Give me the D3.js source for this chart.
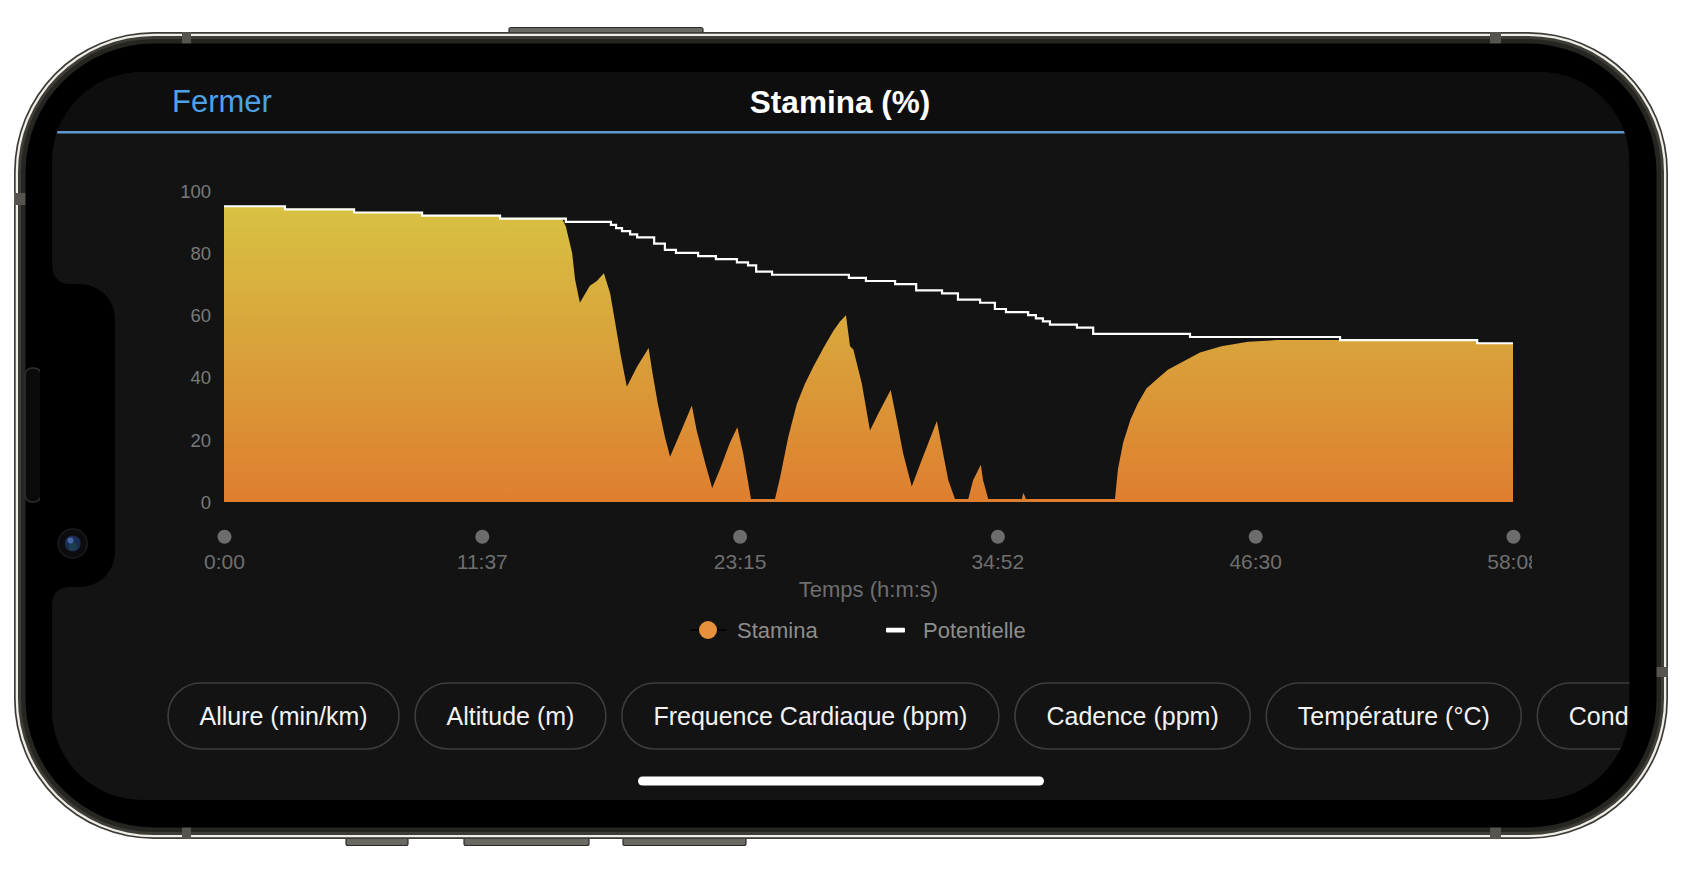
<!DOCTYPE html>
<html><head><meta charset="utf-8">
<script src="https://cdn.jsdelivr.net/npm/d3@7"></script>
<style>
html,body{margin:0;padding:0;background:#fff;overflow:hidden}
svg{display:block}
text{font-family:"Liberation Sans",Arial,Helvetica,sans-serif}
</style>
</head><body>
<svg id="c" width="1682" height="872"></svg>
<script>
// ---------- DATA ----------
const titleText = "Stamina (%)";
const closeText = "Fermer";
const xAxisTitle = "Temps (h:m:s)";
const durationSec = 3488; // 58:08
const xTickLabels = ["0:00","11:37","23:15","34:52","46:30","58:08"];
const yTicks = [0,20,40,60,80,100];
const legendLabels = ["Stamina","Potentielle"];
const buttonLabels = ["Allure (min/km)","Altitude (m)","Frequence Cardiaque (bpm)","Cadence (ppm)","Température (°C)","Condition de performance"];

// Potentielle (step line): time in seconds, value in %
const potentielTime  = [0,165,352,536,747,925,1047,1061,1077,1099,1118,1164,1193,1223,1283,1331,1388,1418,1440,1483,1691,1737,1816,1873,1943,1986,2046,2086,2116,2176,2197,2216,2235,2308,2352,2614,3020,3391,3488];
const potentielValue = [95,94,93,92,91,90,89,88,87,86,85,83,81,80,79,78,77,76,74,73,72,71,70,68,67,65,64,62,61,60,59,58,57,56,54,53,52,51,51];

// Stamina (area): time in seconds, value in %
const staminaTime  = [0,165,168,352,355,536,539,747,750,915,
  925,942,950,963,990,1009,1028,1045,1058,1073,1090,
  1118,1149,1158,1174,1193,1207,1234,1266,1279,1302,1321,
  1342,1369,1389,1405,1426,1491,1505,1527,1550,1572,1595,1622,1649,1667,1683,
  1694,1703,1726,1748,1771,1804,1820,1838,1861,1888,1929,1942,1960,1978,2014,
  2027,2048,2054,2068,2159,2163,2170,2411,2419,2433,2453,2472,2496,2525,2554,2593,2641,2699,2771,2850,3020,3391,3394,3488];
const staminaValue = [95,95,94,94,93,93,92,92,91,91,
  88.5,80,71.5,64,69.5,71,73.5,67,58,47.5,37,
  43.5,49.5,42.5,31.5,21,14.5,22,31,23,12.5,4.5,
  10.5,19,24,15.5,1,1,8,21,31.5,38,43.5,49.5,55,58,60,
  50,49,38,23,28.5,36,26.5,15.5,5,13.5,26,18,7,1,1,
  7,12,7,1,1,3,1,1,10.5,19,26.5,31.5,36.5,39.5,42.5,45,48,50,51.5,52,52,52,51,51];

// ---------- DRAW ----------
const W = 1682, H = 872;
const svg = d3.select('#c');
const defs = svg.append('defs');
svg.append('rect').attr('width', W).attr('height', H).attr('fill', '#fff');

// hardware buttons (behind frame)
[[509,27.5,194,8],[346,836,62,9.5],[464,836,125,9.5],[623,836,123,9.5]].forEach(b => {
  svg.append('rect').attr('x', b[0]).attr('y', b[1]).attr('width', b[2]).attr('height', b[3])
    .attr('rx', 2).attr('fill', '#6a6964').attr('stroke', '#2b2a27').attr('stroke-width', 1.2);
});

// frame
const F = {x:14, y:32, w:1654, h:807, r:140};
function rr(inset, fill) {
  return svg.append('rect').attr('x', F.x + inset).attr('y', F.y + inset)
    .attr('width', F.w - 2*inset).attr('height', F.h - 2*inset)
    .attr('rx', F.r - inset).attr('fill', fill);
}
rr(0, '#3c3b37');
rr(1.7, '#eeede6');
rr(4, '#3d3c37');
rr(7, '#252522');
// antenna bands
[[182,32,9,12],[1490,32,11,12],[182,827,9,12],[1490,827,11,12],[14,193,12,12],[1656,667,12,10]].forEach(a => {
  svg.append('rect').attr('x', a[0]).attr('y', a[1]).attr('width', a[2]).attr('height', a[3]).attr('fill', '#55544f');
});
rr(11.5, '#000');

// side button seen on left
svg.append('rect').attr('x', 25).attr('y', 368).attr('width', 16).attr('height', 134).attr('rx', 7)
  .attr('fill', '#0b0b0b').attr('stroke', '#2f2f2f').attr('stroke-width', 1.5);

// screen
const S = {x:52, y:72, w:1577.5, h:728, r:90};
defs.append('clipPath').attr('id', 'scr').append('rect')
  .attr('x', S.x).attr('y', S.y).attr('width', S.w).attr('height', S.h).attr('rx', S.r);
const g = svg.append('g').attr('clip-path', 'url(#scr)');
g.append('rect').attr('x', S.x).attr('y', S.y).attr('width', S.w).attr('height', S.h).attr('fill', '#131313');
g.append('rect').attr('x', S.x).attr('y', S.y).attr('width', S.w).attr('height', 60).attr('fill', '#0e0e0e');
g.append('line').attr('x1', 40).attr('x2', 1640).attr('y1', 132.3).attr('y2', 132.3)
  .attr('stroke', '#5f97cf').attr('stroke-width', 2.5);

g.append('text').attr('x', 172).attr('y', 111.5).attr('font-size', 31).attr('fill', '#4ea1e6').text(closeText);
g.append('text').attr('x', 840).attr('y', 113).attr('text-anchor', 'middle').attr('font-size', 31.5)
  .attr('font-weight', 'bold').attr('fill', '#fff').text(titleText);

// scales
const x = d3.scaleLinear().domain([0, durationSec]).range([224, 1513]);
const y = d3.scaleLinear().domain([0, 100]).range([502, 190.7]);

// gradient
const grad = defs.append('linearGradient').attr('id', 'stamGrad').attr('gradientUnits', 'userSpaceOnUse')
  .attr('x1', 0).attr('x2', 0).attr('y1', y(100)).attr('y2', y(0));
grad.append('stop').attr('offset', '0%').attr('stop-color', '#d8c544');
grad.append('stop').attr('offset', '50%').attr('stop-color', '#d9a23a');
grad.append('stop').attr('offset', '100%').attr('stop-color', '#df7e2f');

const stamData = staminaTime.map((t, i) => ({t, v: staminaValue[i]}));
const potData = potentielTime.map((t, i) => ({t, v: potentielValue[i]}));

g.append('path').datum(stamData)
  .attr('d', d3.area().x(d => x(d.t)).y0(y(0)).y1(d => y(d.v)))
  .attr('fill', 'url(#stamGrad)');
g.append('path').datum(potData)
  .attr('d', d3.line().x(d => x(d.t)).y(d => y(d.v)).curve(d3.curveStepAfter))
  .attr('fill', 'none').attr('stroke', '#fff').attr('stroke-width', 2.2);

// y axis
const ya = g.append('g').attr('transform', 'translate(224,0)')
  .call(d3.axisLeft(y).tickValues(yTicks).tickSize(0).tickPadding(13));
ya.select('.domain').remove();
ya.attr('font-family', null).attr('font-size', null);
ya.selectAll('text').attr('fill', '#7a7a7a').attr('font-size', 18.5).attr('dy', '0.35em');

// x axis
defs.append('clipPath').attr('id', 'xclip').append('rect').attr('x', 0).attr('y', 500).attr('width', 1532).attr('height', 100);
const xTickVals = xTickLabels.map((_, i) => i * durationSec / (xTickLabels.length - 1));
const xa = g.append('g').attr('clip-path', 'url(#xclip)').append('g').attr('transform', 'translate(0,536.7)')
  .call(d3.axisBottom(x).tickValues(xTickVals).tickFormat((d, i) => xTickLabels[i]).tickSize(0).tickPadding(0));
xa.select('.domain').remove();
xa.attr('font-family', null).attr('font-size', null);
xa.selectAll('.tick').append('circle').attr('r', 7).attr('fill', '#6c6c6c');
xa.selectAll('text').attr('y', 25).attr('dy', '0.35em').attr('fill', '#6f6f6f').attr('font-size', 21);

g.append('text').attr('x', (x.range()[0] + x.range()[1]) / 2).attr('y', 589).attr('dy', '0.35em')
  .attr('text-anchor', 'middle').attr('font-size', 22).attr('fill', '#6e6e6e').text(xAxisTitle);

// legend
g.append('line').attr('x1', 690).attr('x2', 727).attr('y1', 630).attr('y2', 630).attr('stroke', '#050505').attr('stroke-width', 2);
g.append('circle').attr('cx', 708).attr('cy', 630).attr('r', 9).attr('fill', '#e8913c');
g.append('text').attr('x', 737).attr('y', 630).attr('dy', '0.35em').attr('font-size', 22).attr('fill', '#8d8d8d').text(legendLabels[0]);
g.append('rect').attr('x', 886).attr('y', 627.8).attr('width', 19).attr('height', 4.6).attr('rx', 1).attr('fill', '#fff');
g.append('text').attr('x', 923).attr('y', 630).attr('dy', '0.35em').attr('font-size', 22).attr('fill', '#8d8d8d').text(legendLabels[1]);

// buttons
let bx = 168;
buttonLabels.forEach(lbl => {
  const bg = g.append('g');
  const r = bg.append('rect');
  const t = bg.append('text').attr('y', 716.5).attr('dy', '0.35em').attr('font-size', 25).attr('fill', '#f2f2f2').text(lbl);
  const tw = t.node().getComputedTextLength();
  const bw = tw + 63;
  r.attr('x', bx).attr('y', 683).attr('width', bw).attr('height', 66).attr('rx', 33)
    .attr('fill', 'none').attr('stroke', '#3d3d3d').attr('stroke-width', 1.6);
  t.attr('x', bx + 31.5);
  bx += bw + 16;
});

// home indicator
g.append('rect').attr('x', 638).attr('y', 776.5).attr('width', 406).attr('height', 9).attr('rx', 4.5).attr('fill', '#fff');

// notch
svg.append('path').attr('fill', '#000')
  .attr('d', 'M40,262 L52,262 Q52,284 70,284 L80,284 A35,35 0 0 1 115,319 L115,552 A35,35 0 0 1 80,587 L70,587 Q52,587 52,606 L40,606 Z');
// camera
svg.append('circle').attr('cx', 72.7).attr('cy', 543.5).attr('r', 14.5).attr('fill', '#0c0c0e').attr('stroke', '#1b1b1e').attr('stroke-width', 1.5);
svg.append('circle').attr('cx', 72.7).attr('cy', 543.5).attr('r', 8).attr('fill', '#1a2c52');
svg.append('circle').attr('cx', 72.7).attr('cy', 546.5).attr('r', 4).attr('fill', '#1f4a4a').attr('opacity', 0.7);
svg.append('circle').attr('cx', 70.5).attr('cy', 540.5).attr('r', 3).attr('fill', '#4d72b8').attr('opacity', 0.85);
</script>
</body></html>
